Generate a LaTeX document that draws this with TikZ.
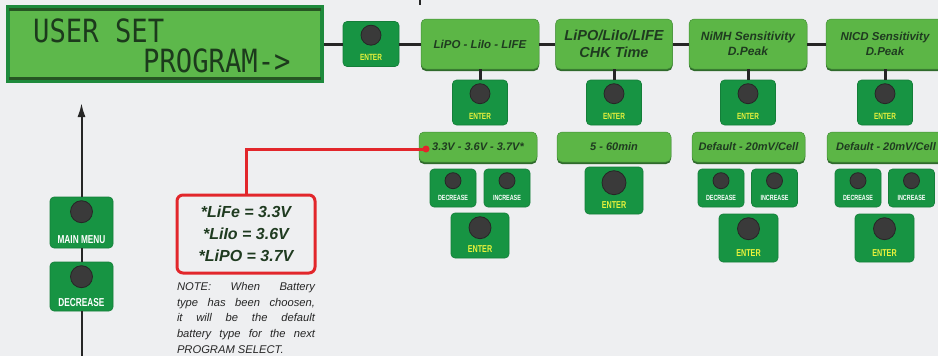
\documentclass[tikz,border=0pt]{standalone}
\usepackage{fontspec}
\setmainfont{Liberation Sans}
\newfontfamily\lcdfont[FakeStretch=0.85]{DejaVu Sans Mono}
\newfontfamily\keyfont[FakeStretch=0.72]{Liberation Sans}
\usetikzlibrary{arrows.meta}

\definecolor{bgcol}{HTML}{EEEFF1}
\definecolor{boxgreen}{HTML}{5CB646}
\definecolor{boxdark}{HTML}{2F6A2C}
\definecolor{btngreen}{HTML}{179443}
\definecolor{knobgray}{HTML}{3A3A3A}
\definecolor{entertxt}{HTML}{E8F23C}
\definecolor{labeltxt}{HTML}{1F3B20}
\definecolor{lcdedge}{HTML}{1E8A3C}
\definecolor{lcdgreen}{HTML}{5DB84B}
\definecolor{lcdtxt}{HTML}{1C3A1C}
\definecolor{notered}{HTML}{E2262B}

% push button: name, centre, width, height, knob radius, label style, label
\newcommand{\knobbtn}[7]{%
  \node[btn, minimum width=#3, minimum height=#4] (#1) at #2 {};
  \node[knob, minimum size=2*#5] (#1k) at ([yshift=-#5-4]#1.north) {};
  \node[#6] (#1t) at ([yshift=9]#1.south) {#7};
}

\begin{document}
\begin{tikzpicture}[x=1pt,y=-1pt]
        \tikzset{lcd/.style = {rectangle, fill=lcdgreen, draw=lcdedge, line width=4, minimum width=314, minimum height=74}}
        \tikzset{lcdline/.style = {draw=boxdark!80!black, line width=2.5}}
        \tikzset{lcdtext/.style = {inner sep=0, anchor=base west, text=lcdtxt, font=\lcdfont\fontsize{32}{32}\selectfont}}
        \tikzset{btn/.style = {rectangle, rounded corners=4, fill=btngreen, draw=btngreen!85!black, line width=0.6}}
        \tikzset{knob/.style = {circle, inner sep=0, fill=knobgray, draw=black!85, line width=0.8}}
        \tikzset{entlabel/.style = {inner sep=0, text=entertxt, font=\keyfont\bfseries\fontsize{9}{9}\selectfont}}
        \tikzset{bigentlabel/.style = {entlabel, font=\keyfont\bfseries\fontsize{10}{10}\selectfont}}
        \tikzset{keylabel/.style = {inner sep=0, text=white, font=\keyfont\bfseries\fontsize{7.5}{7.5}\selectfont}}
        \tikzset{bigkeylabel/.style = {keylabel, font=\keyfont\bfseries\fontsize{11.5}{11.5}\selectfont}}
        \tikzset{menubox/.style = {rectangle, rounded corners=5, fill=boxgreen, draw=boxdark!50!boxgreen, line width=0.5, minimum height=50, inner sep=0, align=center, text=labeltxt, font=\bfseries\itshape\fontsize{11.5}{13}\selectfont, preaction={fill=boxdark, transform canvas={yshift=-2pt}}}}
        \tikzset{valbox/.style = {menubox, minimum height=30, font=\bfseries\itshape\fontsize{11}{13}\selectfont}}
        \tikzset{wire/.style = {draw=black!85, line width=3}}
        \tikzset{edge/.style = {draw=black!85, line width=2, -{Latex[length=14pt,width=8pt]}}}
        \tikzset{redline/.style = {draw=notered, line width=3}}
        \tikzset{redbox/.style = {rectangle, rounded corners=6, draw=notered, line width=3, fill=bgcol, minimum width=138, minimum height=78, align=center, text=labeltxt, font=\bfseries\itshape\fontsize{16}{22}\selectfont}}
        \tikzset{note/.style = {inner sep=0, text width=138, align=justify, text=black!85, font=\itshape\fontsize{11.2}{15.8}\selectfont}}
        \path[use as bounding box, fill=bgcol] (0,0) rectangle (938,356);
        \clip (0,0) rectangle (938,356);
        % display and menu row
        \node[lcd] (lcd) at (165,44) {};
        \draw[lcdline] ([xshift=3,yshift=-4.5]lcd.north west) -- ([xshift=-3,yshift=-4.5]lcd.north east);
        \draw[lcdline] ([xshift=3,yshift=4.5]lcd.south west) -- ([xshift=-3,yshift=4.5]lcd.south east);
        \node[lcdtext] (lcd1) at (33,42) {USER SET};
        \node[lcdtext] (lcd2) at (143,72) {PROGRAM->};
        \knobbtn{enter0}{(371,44)}{56}{45}{10}{entlabel}{ENTER}
        \node[menubox, minimum width=118] (m1) at (480,44) {LiPO - LiIo - LIFE};
        \node[menubox, minimum width=117, font=\bfseries\itshape\fontsize{14.5}{17}\selectfont] (m2) at (614,44) {LiPO/LiIo/LIFE\\CHK Time};
        \node[menubox, minimum width=118, font=\bfseries\itshape\fontsize{12}{15}\selectfont] (m3) at (748,44) {NiMH Sensitivity\\D.Peak};
        \node[menubox, minimum width=118, font=\bfseries\itshape\fontsize{11.5}{15}\selectfont] (m4) at (885,44) {NICD Sensitivity\\D.Peak};
        \knobbtn{e1}{(480,102.5)}{55}{45}{10}{entlabel}{ENTER}
        \knobbtn{e2}{(614,102.5)}{55}{45}{10}{entlabel}{ENTER}
        \knobbtn{e3}{(748,102.5)}{55}{45}{10}{entlabel}{ENTER}
        \knobbtn{e4}{(885,102.5)}{55}{45}{10}{entlabel}{ENTER}
        % values
        \node[valbox, minimum width=118] (v1) at (478,147) {3.3V - 3.6V - 3.7V*};
        \node[valbox, minimum width=114] (v2) at (614,147) {5 - 60min};
        \node[valbox, minimum width=113] (v3) at (748.5,147) {Default - 20mV/Cell};
        \node[valbox, minimum width=118] (v4) at (886,147) {Default - 20mV/Cell};
        % keys
        \knobbtn{dec1}{(453,188)}{46}{38}{8}{keylabel}{DECREASE}
        \knobbtn{inc1}{(507,188)}{46}{38}{8}{keylabel}{INCREASE}
        \knobbtn{ent1}{(480,235.5)}{58}{45}{11}{bigentlabel}{ENTER}
        \knobbtn{ent2}{(614,190.5)}{58}{47}{12}{bigentlabel}{ENTER}
        \knobbtn{dec3}{(721,188)}{46}{38}{8}{keylabel}{DECREASE}
        \knobbtn{inc3}{(774.5,188)}{46}{38}{8}{keylabel}{INCREASE}
        \knobbtn{ent3}{(748.5,238)}{59}{48}{11}{bigentlabel}{ENTER}
        \knobbtn{dec4}{(858,188)}{46}{38}{8}{keylabel}{DECREASE}
        \knobbtn{inc4}{(911.5,188)}{46}{38}{8}{keylabel}{INCREASE}
        \knobbtn{ent4}{(884.5,238)}{59}{48}{11}{bigentlabel}{ENTER}
        % main menu keys
        \knobbtn{menu}{(81.5,222.5)}{63}{51}{11}{bigkeylabel}{MAIN MENU}
        \knobbtn{decl}{(81.5,286.5)}{63}{49}{11}{bigkeylabel}{DECREASE}
        % note
        \node[redbox] (redbox) at (246,234) {*LiFe = 3.3V\\{}*LiIo = 3.6V\\{}*LiPO = 3.7V};
        \node[note, anchor=north] (note) at (246,282) {NOTE: When Battery\linebreak type has been choosen,\linebreak it will be the default\linebreak battery type for the next\linebreak PROGRAM SELECT.};
        \coordinate (dot) at (426,149);
        \coordinate (tip) at (81.5,103);
        \coordinate (foot) at (81.5,360);
        \coordinate (stub1) at (420,-2);
        \coordinate (stub2) at (420,5);
        %edges
        \draw[wire] (lcd) -- (enter0);
        \draw[wire] (enter0) -- (m1);
        \draw[wire] (m1) -- (m2);
        \draw[wire] (m2) -- (m3);
        \draw[wire] (m3) -- (m4);
        \draw[wire] (m1) -- (e1);
        \draw[wire] (m2) -- (e2);
        \draw[wire] (m3) -- (e3);
        \draw[wire] (m4) -- (e4);
        \draw[edge] (menu) -- (tip);
        \draw[wire, line width=2] (decl) -- (menu);
        \draw[wire, line width=2] (foot) -- (decl);
        \draw[wire, line width=2] (stub1) -- (stub2);
        \draw[redline] (dot) -| (redbox);
        \fill[notered] (dot) circle[radius=3.5pt];
\end{tikzpicture}
\end{document}
